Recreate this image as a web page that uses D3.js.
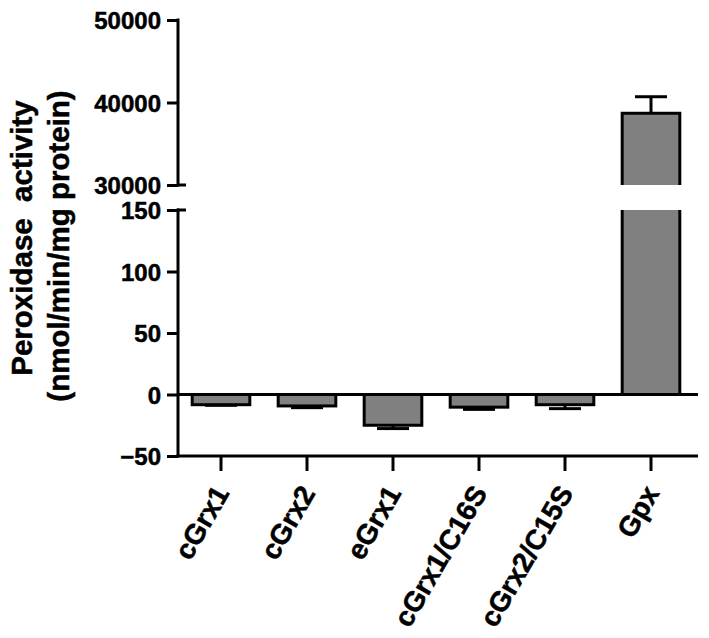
<!DOCTYPE html>
<html>
<head>
<meta charset="utf-8">
<script src="https://cdn.jsdelivr.net/npm/d3@7"></script>
<style>
  html, body { margin: 0; padding: 0; background: #fff; }
  svg { display: block; }
  text { font-family: "Liberation Sans", Arial, sans-serif; font-weight: bold; fill: #000; stroke: #000; stroke-width: 0.5px; }
</style>
</head>
<body>
<svg id="chart" width="709" height="638"></svg>
<script>
// ---- data ----
const categories = ["cGrx1", "cGrx2", "eGrx1", "cGrx1/C16S", "cGrx2/C15S", "Gpx"];
const values = [-8.3, -9.3, -25, -10.3, -8.3, 38700];
const errors = [0.5, 1.4, 2.7, 1.8, 3.2, 2000];
const lowTicks = [-50, 0, 50, 100, 150];
const highTicks = [30000, 40000, 50000];
const lowDomain = [-50, 150];
const highDomain = [30000, 50000];
const yTitle = ["Peroxidase  activity", "(nmol/min/mg protein)"];

// ---- layout ----
const svg = d3.select("#chart");
const axisX = 178;
const sw = 3;
const x = d3.scaleBand(categories, [178, 694]).paddingInner(0.33).paddingOuter(0.165);
const yLo = d3.scaleLinear(lowDomain, [456, 210]);
const yHi = d3.scaleLinear(highDomain, [185, 20]);
const xAxisY = yLo(lowDomain[0]);
const xEnd = 698;
const fill = "#808080";

const g = svg.append("g");

// bars
categories.forEach((c, i) => {
  const v = values[i], e = errors[i];
  const x0 = x(c), bw = x.bandwidth(), cx = x0 + bw / 2;
  if (v < 0) {
    g.append("rect")
      .attr("x", x0).attr("y", yLo(0)).attr("width", bw).attr("height", yLo(v) - yLo(0))
      .attr("fill", fill).attr("stroke", "#000").attr("stroke-width", sw);
    g.append("line").attr("x1", cx).attr("x2", cx).attr("y1", yLo(v)).attr("y2", yLo(v - e))
      .attr("stroke", "#000").attr("stroke-width", sw);
    g.append("line").attr("x1", cx - 16).attr("x2", cx + 16).attr("y1", yLo(v - e)).attr("y2", yLo(v - e))
      .attr("stroke", "#000").attr("stroke-width", sw);
  } else {
    const topLo = yLo(lowDomain[1]);
    g.append("rect").attr("x", x0).attr("y", topLo).attr("width", bw).attr("height", yLo(0) - topLo)
      .attr("fill", fill);
    g.append("path")
      .attr("d", `M${x0},${topLo}V${yLo(0)}H${x0 + bw}V${topLo}`)
      .attr("fill", "none").attr("stroke", "#000").attr("stroke-width", sw);
    const botHi = yHi(highDomain[0]);
    g.append("rect").attr("x", x0).attr("y", yHi(v)).attr("width", bw).attr("height", botHi - yHi(v))
      .attr("fill", fill);
    g.append("path")
      .attr("d", `M${x0},${botHi}V${yHi(v)}H${x0 + bw}V${botHi}`)
      .attr("fill", "none").attr("stroke", "#000").attr("stroke-width", sw);
    g.append("line").attr("x1", cx).attr("x2", cx).attr("y1", yHi(v)).attr("y2", yHi(v + e))
      .attr("stroke", "#000").attr("stroke-width", sw);
    g.append("line").attr("x1", cx - 16).attr("x2", cx + 16).attr("y1", yHi(v + e)).attr("y2", yHi(v + e))
      .attr("stroke", "#000").attr("stroke-width", sw);
  }
});

// zero line
g.append("line").attr("x1", axisX).attr("x2", xEnd).attr("y1", yLo(0)).attr("y2", yLo(0))
  .attr("stroke", "#000").attr("stroke-width", sw);

// y axes (two segments)
function yAxisSeg(scale, ticks) {
  const ax = d3.axisLeft(scale).tickValues(ticks).tickSize(11).tickPadding(6).tickFormat(d3.format("d"));
  const a = svg.append("g").attr("transform", `translate(${axisX},0)`).call(ax);
  a.select(".domain").remove();
  a.selectAll(".tick line").attr("stroke", "#000").attr("stroke-width", sw);
  a.selectAll(".tick text").style("font-size", "24px").attr("dy", "0.36em");
  const r = scale.range();
  a.append("line").attr("x1", 0).attr("x2", 0).attr("y1", Math.min(...r) - 1.5).attr("y2", Math.max(...r) + 1.5)
    .attr("stroke", "#000").attr("stroke-width", sw);
  return a;
}
const aHi = yAxisSeg(yHi, highTicks);
const aLo = yAxisSeg(yLo, lowTicks);
aHi.append("line").attr("x1", -1).attr("x2", 8).attr("y1", yHi(highDomain[0])).attr("y2", yHi(highDomain[0]))
  .attr("stroke", "#000").attr("stroke-width", sw);
aLo.append("line").attr("x1", -1).attr("x2", 8).attr("y1", yLo(lowDomain[1])).attr("y2", yLo(lowDomain[1]))
  .attr("stroke", "#000").attr("stroke-width", sw);

// x axis
const xa = svg.append("g").attr("transform", `translate(0,${xAxisY})`)
  .call(d3.axisBottom(x).tickSize(15).tickFormat(""));
xa.select(".domain").remove();
xa.selectAll(".tick line").attr("stroke", "#000").attr("stroke-width", sw);
xa.append("line").attr("x1", axisX - 1.5).attr("x2", xEnd).attr("y1", 0).attr("y2", 0)
  .attr("stroke", "#000").attr("stroke-width", sw);

// x labels rotated
svg.append("g").selectAll("text").data(categories).join("text")
  .attr("transform", d => `translate(${x(d) + x.bandwidth() / 2 + 0.5},${xAxisY + 32}) rotate(-60)`)
  .attr("text-anchor", "end").attr("dy", "0.35em")
  .style("font-size", "28px")
  .text(d => d);

// y title
const tg = svg.append("g");
tg.append("text").attr("transform", "translate(32,238) rotate(-90)")
  .attr("text-anchor", "middle").style("font-size", "29.5px").style("white-space", "pre")
  .text(yTitle[0]);
tg.append("text").attr("transform", "translate(69,246) rotate(-90)")
  .attr("text-anchor", "middle").style("font-size", "29.5px").style("white-space", "pre")
  .text(yTitle[1]);
</script>
</body>
</html>
